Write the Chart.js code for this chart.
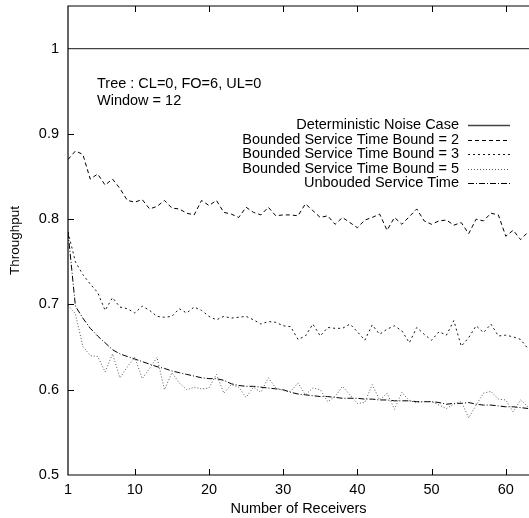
<!DOCTYPE html>
<html>
<head>
<meta charset="utf-8">
<script src="https://cdn.jsdelivr.net/npm/chart.js@4.4.0/dist/chart.umd.min.js"></script>
<style>
	html, body { margin: 0; padding: 0; background: #fff; }
	#wrap { width: 529px; height: 518px; }
</style>
</head>
<body>
<div id="wrap"><canvas id="chart"></canvas></div>
<script>
// Data
// ================================================================================
let receivers = [1, 2, 3, 4, 5, 6, 7, 8, 9, 10, 11, 12, 13, 14, 15, 16, 17, 18, 19, 20,
	21, 22, 23, 24, 25, 26, 27, 28, 29, 30, 31, 32, 33, 34, 35, 36, 37, 38, 39, 40,
	41, 42, 43, 44, 45, 46, 47, 48, 49, 50, 51, 52, 53, 54, 55, 56, 57, 58, 59, 60,
	61, 62, 63];

let deterministic_x = [1, 64];
let deterministic = [1, 1];

let bound_2 = [0.870, 0.880, 0.876, 0.847, 0.853, 0.840, 0.847, 0.836, 0.822, 0.820,
	0.823, 0.812, 0.815, 0.822, 0.813, 0.812, 0.807, 0.805, 0.822, 0.816,
	0.822, 0.808, 0.806, 0.802, 0.814, 0.808, 0.805, 0.814, 0.804, 0.805,
	0.805, 0.804, 0.818, 0.810, 0.802, 0.804, 0.794, 0.802, 0.796, 0.790,
	0.799, 0.802, 0.806, 0.787, 0.802, 0.794, 0.803, 0.812, 0.798, 0.794,
	0.798, 0.799, 0.793, 0.796, 0.783, 0.800, 0.798, 0.807, 0.805, 0.780,
	0.787, 0.776, 0.785];

let bound_3 = [0.785, 0.750, 0.735, 0.724, 0.714, 0.693, 0.708, 0.697, 0.695, 0.690,
	0.698, 0.693, 0.686, 0.685, 0.686, 0.695, 0.690, 0.697, 0.693, 0.686,
	0.682, 0.686, 0.684, 0.685, 0.686, 0.682, 0.677, 0.680, 0.679, 0.675,
	0.674, 0.659, 0.663, 0.677, 0.663, 0.673, 0.672, 0.672, 0.677, 0.668,
	0.658, 0.676, 0.665, 0.671, 0.675, 0.669, 0.655, 0.673, 0.665, 0.658,
	0.668, 0.664, 0.681, 0.651, 0.661, 0.675, 0.667, 0.677, 0.663, 0.664,
	0.662, 0.659, 0.648];

let bound_5 = [0.699, 0.689, 0.651, 0.640, 0.639, 0.621, 0.642, 0.614, 0.627, 0.638,
	0.613, 0.625, 0.638, 0.600, 0.620, 0.608, 0.600, 0.603, 0.601, 0.602,
	0.618, 0.596, 0.606, 0.603, 0.591, 0.603, 0.597, 0.614, 0.602, 0.599,
	0.598, 0.608, 0.594, 0.602, 0.600, 0.586, 0.592, 0.604, 0.594, 0.584,
	0.585, 0.606, 0.588, 0.596, 0.577, 0.597, 0.587, 0.585, 0.586, 0.586,
	0.582, 0.578, 0.583, 0.586, 0.567, 0.582, 0.596, 0.598, 0.589, 0.588,
	0.574, 0.588, 0.580];

let unbounded = [0.785, 0.698, 0.684, 0.672, 0.663, 0.655, 0.647, 0.642, 0.639, 0.636,
	0.633, 0.630, 0.627, 0.625, 0.622, 0.620, 0.618, 0.616, 0.614, 0.613,
	0.613, 0.611, 0.607, 0.605, 0.604, 0.604, 0.603, 0.602, 0.601, 0.600,
	0.597, 0.595, 0.594, 0.593, 0.592, 0.592, 0.591, 0.590, 0.590, 0.590,
	0.589, 0.589, 0.588, 0.588, 0.587, 0.587, 0.587, 0.586, 0.586, 0.586,
	0.585, 0.583, 0.584, 0.584, 0.585, 0.583, 0.582, 0.582, 0.581, 0.580,
	0.580, 0.579, 0.578];

let series_labels = ["Deterministic Noise Case", "Bounded Service Time Bound = 2",
	"Bounded Service Time Bound = 3", "Bounded Service Time Bound = 5",
	"Unbouded Service Time"];

let x_ticks = [1, 10, 20, 30, 40, 50, 60];
let y_ticks = [0.5, 0.6, 0.7, 0.8, 0.9, 1.0];

let note_lines = ["Tree : CL=0, FO=6, UL=0", "Window = 12"];

let to_points = (xs, ys) => ys.map((y, i) => ({x: xs[i], y: y}));

// Chart
// ================================================================================
const FONT = '"Liberation Sans", Arial, Helvetica, sans-serif';
const FONT_SIZE = 14.5;

let line_ds = (label, pts, color, dash, width) => ({
	label: label,
	data: pts,
	borderColor: color,
	borderWidth: width,
	borderDash: dash,
	pointRadius: 0,
	tension: 0,
	fill: false
});

let datasets = [
	line_ds(series_labels[0], to_points(deterministic_x, deterministic), '#444', [], 1.4),
	line_ds(series_labels[1], to_points(receivers, bound_2), '#000', [4, 3], 1),
	line_ds(series_labels[2], to_points(receivers, bound_3), '#111', [2, 3], 1),
	line_ds(series_labels[3], to_points(receivers, bound_5), '#555', [1, 2], 1),
	line_ds(series_labels[4], to_points(receivers, unbounded), '#000', [6, 2, 1, 2], 1)
];

// frame, inward ticks, note text and gnuplot-style legend
let frame_plugin = {
	id: 'frame',
	afterDraw(chart) {
		let ctx = chart.ctx;
		let area = chart.chartArea;
		let xs = chart.scales.x, ys = chart.scales.y;
		ctx.save();
		ctx.strokeStyle = '#000';
		ctx.lineWidth = 1.2;
		ctx.beginPath();
		ctx.moveTo(area.right + 2, area.top);
		ctx.lineTo(area.left, area.top);
		ctx.lineTo(area.left, area.bottom);
		ctx.lineTo(area.right + 2, area.bottom);
		ctx.stroke();

		ctx.lineWidth = 1;
		ctx.beginPath();
		x_ticks.slice(1).forEach(v => {
			let px = Math.round(xs.getPixelForValue(v)) + 0.5;
			ctx.moveTo(px, area.bottom); ctx.lineTo(px, area.bottom - 6);
			ctx.moveTo(px, area.top); ctx.lineTo(px, area.top + 6);
		});
		y_ticks.slice(1, -1).forEach(v => {
			let py = Math.round(ys.getPixelForValue(v)) + 0.5;
			ctx.moveTo(area.left, py); ctx.lineTo(area.left + 6, py);
		});
		ctx.stroke();

		// note
		ctx.fillStyle = '#000';
		ctx.font = FONT_SIZE + 'px ' + FONT;
		ctx.textAlign = 'left';
		ctx.textBaseline = 'alphabetic';
		note_lines.forEach((t, i) => ctx.fillText(t, 97, 88 + i * 17));

		// legend
		ctx.textAlign = 'right';
		ctx.textBaseline = 'middle';
		chart.data.datasets.forEach((ds, i) => {
			let y = 125 + i * 14.6;
			ctx.fillStyle = '#000';
			ctx.fillText(ds.label, 459, y);
			ctx.strokeStyle = ds.borderColor;
			ctx.lineWidth = ds.borderWidth;
			ctx.setLineDash(ds.borderDash);
			ctx.beginPath();
			ctx.moveTo(468, Math.round(y) + 0.5);
			ctx.lineTo(510, Math.round(y) + 0.5);
			ctx.stroke();
		});
		ctx.restore();
	}
};

let chart = new Chart(document.getElementById('chart'), {
	type: 'line',
	data: {datasets: datasets},
	options: {
		responsive: true,
		maintainAspectRatio: false,
		animation: false,
		layout: {padding: {top: 6, right: 0, left: 0, bottom: 0}},
		plugins: {legend: {display: false}, tooltip: {enabled: false}},
		scales: {
			x: {
				type: 'linear',
				min: 1,
				max: 63.13,
				afterBuildTicks: s => { s.ticks = x_ticks.map(v => ({value: v})); },
				afterFit: s => { s.height = 43; s.paddingLeft = 0; s.paddingRight = 0; },
				grid: {display: false, drawTicks: false},
				border: {display: false},
				ticks: {
					color: '#000', padding: 6, maxRotation: 0, autoSkip: false,
					font: {family: FONT, size: FONT_SIZE},
					callback: v => String(v)
				},
				title: {
					display: true, text: 'Number of Receivers', color: '#000',
					font: {family: FONT, size: FONT_SIZE}, padding: {top: 5, bottom: 0}
				}
			},
			y: {
				min: 0.5,
				max: 1.05,
				afterBuildTicks: s => { s.ticks = y_ticks.map(v => ({value: v})); },
				afterFit: s => { s.width = 68; s.paddingTop = 0; s.paddingBottom = 0; },
				grid: {display: false, drawTicks: false},
				border: {display: false},
				ticks: {
					color: '#000', padding: 9, autoSkip: false,
					font: {family: FONT, size: FONT_SIZE},
					callback: v => String(Number(v.toFixed(1)))
				},
				title: {
					display: true, text: 'Throughput', color: '#000',
					font: {family: FONT, size: FONT_SIZE - 1}, padding: {top: 7, bottom: 0}
				}
			}
		}
	},
	plugins: [frame_plugin]
});
</script>
</body>
</html>
